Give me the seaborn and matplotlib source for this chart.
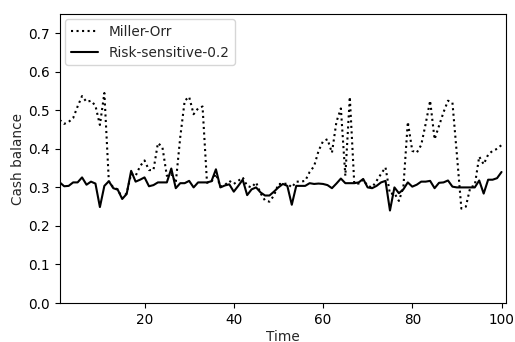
import numpy as np
import pandas as pd
import matplotlib
matplotlib.use("Agg")
import matplotlib.pyplot as plt
import seaborn as sns

time = list(range(1, 101))

miller_orr = [
    0.475, 0.465, 0.47, 0.48, 0.51, 0.537, 0.522, 0.525, 0.512, 0.462,
    0.545, 0.316, 0.300, 0.295, 0.272, 0.285, 0.335, 0.330, 0.355, 0.370,
    0.345, 0.345, 0.415, 0.405, 0.330, 0.335, 0.312, 0.430, 0.525, 0.535,
    0.490, 0.505, 0.510, 0.312, 0.315, 0.335, 0.302, 0.306, 0.317, 0.309,
    0.317, 0.326, 0.304, 0.300, 0.313, 0.285, 0.266, 0.263, 0.279, 0.309,
    0.309, 0.310, 0.300, 0.315, 0.315, 0.317, 0.340, 0.355, 0.395, 0.420,
    0.425, 0.390, 0.470, 0.505, 0.330, 0.535, 0.310, 0.310, 0.320, 0.304,
    0.300, 0.317, 0.335, 0.352, 0.283, 0.285, 0.265, 0.300, 0.470, 0.395,
    0.390, 0.410, 0.465, 0.525, 0.425, 0.460, 0.495, 0.525, 0.520, 0.385,
    0.245, 0.250, 0.300, 0.305, 0.380, 0.360, 0.385, 0.395, 0.400, 0.410,
]

risk_sensitive = [
    0.313, 0.303, 0.304, 0.313, 0.313, 0.326, 0.307, 0.315, 0.310, 0.249,
    0.304, 0.316, 0.298, 0.294, 0.270, 0.283, 0.343, 0.315, 0.320, 0.326,
    0.303, 0.306, 0.313, 0.313, 0.313, 0.349, 0.298, 0.311, 0.311, 0.317,
    0.300, 0.313, 0.313, 0.313, 0.316, 0.347, 0.300, 0.305, 0.308, 0.289,
    0.304, 0.320, 0.280, 0.295, 0.300, 0.287, 0.279, 0.279, 0.289, 0.300,
    0.309, 0.304, 0.255, 0.304, 0.304, 0.304, 0.311, 0.309, 0.310, 0.309,
    0.306, 0.298, 0.310, 0.323, 0.311, 0.311, 0.311, 0.313, 0.322, 0.300,
    0.298, 0.304, 0.313, 0.317, 0.240, 0.300, 0.285, 0.295, 0.313, 0.302,
    0.307, 0.315, 0.315, 0.317, 0.298, 0.312, 0.313, 0.318, 0.302, 0.300,
    0.300, 0.300, 0.300, 0.300, 0.318, 0.284, 0.320, 0.320, 0.324, 0.340,
]

x_ticks = [20, 40, 60, 80, 100]
y_ticks = [0.0, 0.1, 0.2, 0.3, 0.4, 0.5, 0.6, 0.7]

sns.set_style("ticks")
plt.rcParams["font.family"] = ["DejaVu Sans"]
FS = 9.8

df = pd.DataFrame({"Time": time, "Miller-Orr": miller_orr,
                   "Risk-sensitive-0.2": risk_sensitive})

fig = plt.figure(figsize=(5.15, 3.42), dpi=100)
ax = fig.add_axes([0.116, 0.114, 0.8665, 0.845])

sns.lineplot(data=df, x="Time", y="Miller-Orr", ax=ax, color="black",
             linestyle=":", linewidth=1.5, label="Miller-Orr")
sns.lineplot(data=df, x="Time", y="Risk-sensitive-0.2", ax=ax, color="black",
             linestyle="-", linewidth=1.5, label="Risk-sensitive-0.2")

ax.set_xlim(1, 101)
ax.set_ylim(0, 0.75)
ax.set_xticks(x_ticks)
ax.set_yticks(y_ticks)
ax.set_xlabel("Time", fontsize=FS, labelpad=2.0)
ax.set_ylabel("Cash balance", fontsize=FS, labelpad=2.5)
for s in ax.spines.values():
    s.set_visible(True)
    s.set_color("black")
    s.set_linewidth(0.8)
ax.tick_params(direction="out", length=3.5, width=0.8, colors="black",
               labelsize=FS)
ax.legend(loc="upper left", frameon=True, fancybox=True, framealpha=0.8,
          edgecolor="#cccccc", fontsize=FS, borderaxespad=0.4)

fig.savefig("out.png", dpi=100)
